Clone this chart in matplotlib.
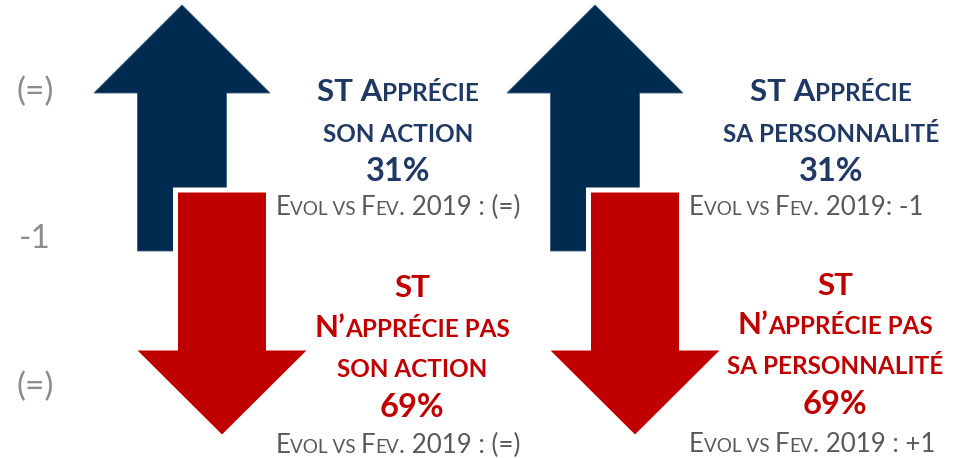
import matplotlib
matplotlib.use("Agg")
import matplotlib.pyplot as plt
from matplotlib.patches import Polygon

plt.rcParams['font.family'] = ['Lato', 'DejaVu Sans']

NAVY = '#002b50'
NAVY_TXT = '#1f3864'
RED = '#c00000'
GREY = '#595959'
SIDE_GREY = '#8c8c8c'

# données
topics = ['SON ACTION', 'SA PERSONNALITÉ']
pct_apprecie = [31, 31]
pct_napprecie = [69, 69]
evol_apprecie = [' : (=)', ': -1']
evol_napprecie = [' : (=)', ' : +1']
side_labels = ['(=)', '-1', '(=)']

W, H = 961, 458
fig = plt.figure(figsize=(W / 100, H / 100), dpi=100)
ax = fig.add_axes([0, 0, 1, 1])
ax.set_xlim(0, W)
ax.set_ylim(H, 0)
ax.axis('off')


def arrow(cx, y_tip, y_neck, y_end, head_w, shaft_w, color, edge=None, lw=0):
    hw, sw = head_w / 2, shaft_w / 2
    pts = [(cx, y_tip), (cx + hw, y_neck), (cx + sw, y_neck), (cx + sw, y_end),
           (cx - sw, y_end), (cx - sw, y_neck), (cx - hw, y_neck)]
    p = Polygon(pts, closed=True, facecolor=color,
                edgecolor=edge if edge else color, linewidth=lw, joinstyle='miter')
    ax.add_patch(p)


def rich(xc, y, parts, color, weight='bold'):
    # parts = [(texte, taille)], centré sur xc, ligne de base y
    texts = [ax.text(0, y, s, fontsize=sz, color=color, weight=weight,
                     ha='left', va='baseline') for s, sz in parts]
    fig.canvas.draw()
    r = fig.canvas.get_renderer()
    widths = [t.get_window_extent(r).width for t in texts]
    x = xc - sum(widths) / 2
    for t, w in zip(texts, widths):
        t.set_x(x)
        x += w


BIG, SMALL, PCT = 22.5, 17.5, 23.5
EB, ES = 18.6, 13.6


def evol(xc, y, tail):
    rich(xc, y, [('E', EB), ('VOL VS ', ES), ('F', EB), ('EV', ES), ('. 2019' + tail, EB)],
         GREY, weight='normal')


centres = [182, 595]
text_up_x = [398, 831]
text_dn_x = [412, 835]
evol_x = [398, 806]
evol_dn_x = [398, 812]

for i, cx in enumerate(centres):
    # flèche montante
    arrow(cx, 5, 93, 251, 176, 89, NAVY, edge='#3a5a80', lw=0.6)
    # flèche descendante avec contour blanc
    dx = cx + 40
    arrow(dx, 438, 348, 190, 181, 93, RED, edge='white', lw=3.6)

    tx = text_up_x[i]
    rich(tx, 101, [('ST A', BIG), ('PPRÉCIE', SMALL)], NAVY_TXT)
    rich(tx, 142, [(topics[i], SMALL)], NAVY_TXT)
    rich(tx, 181, [(f'{pct_apprecie[i]}%', PCT)], NAVY_TXT)
    evol(evol_x[i], 215, evol_apprecie[i])

    tx = text_dn_x[i]
    base = [297, 337, 377, 417, 453] if i == 0 else [295, 334, 374, 414, 452]
    rich(tx, base[0], [('ST', BIG)], RED)
    rich(tx, base[1], [('N’', BIG), ('APPRÉCIE PAS', SMALL)], RED)
    rich(tx, base[2], [(topics[i], SMALL)], RED)
    rich(tx, base[3], [(f'{pct_napprecie[i]}%', PCT)], RED)
    evol(evol_dn_x[i], base[4], evol_napprecie[i])

for lab, y in zip(side_labels, [92, 239, 387]):
    ax.text(35, y, lab, fontsize=24, color=SIDE_GREY, ha='center', va='center')

fig.savefig('out.png', dpi=100)
